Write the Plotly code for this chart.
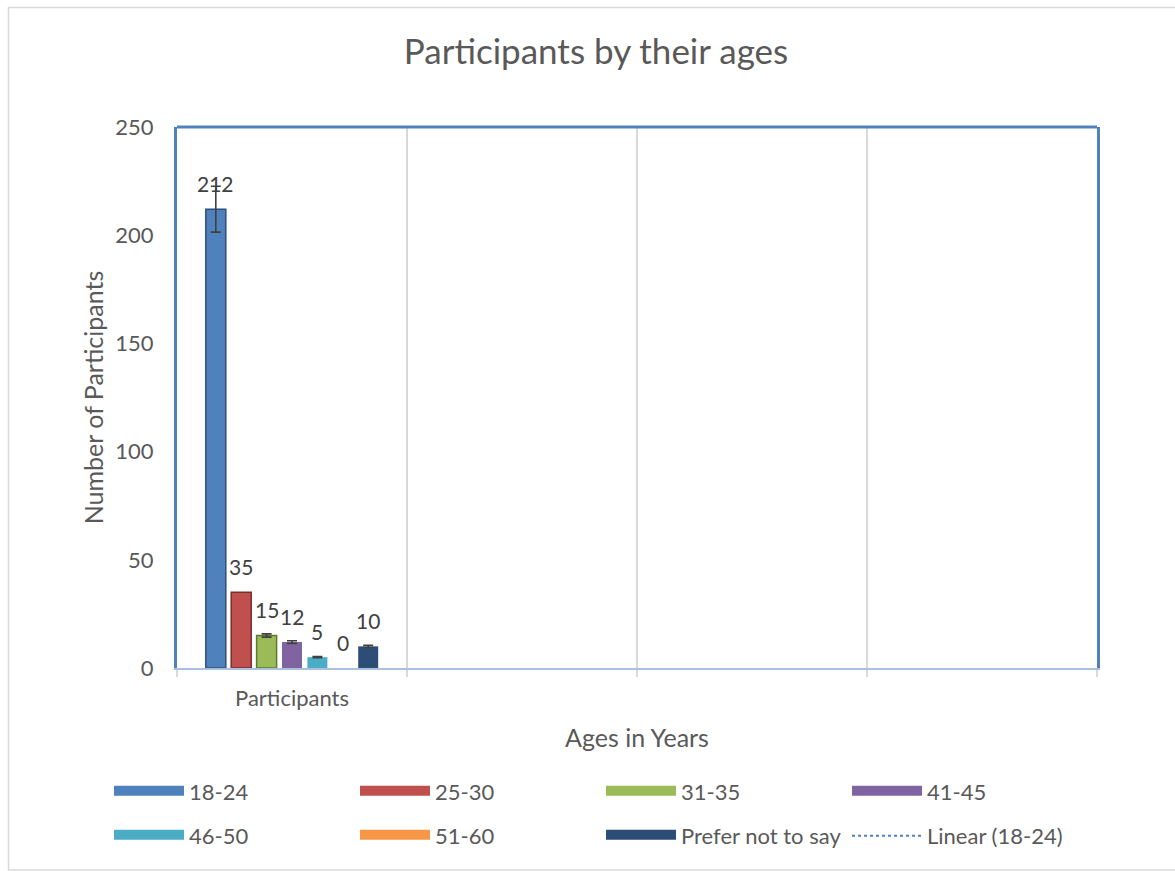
import plotly.graph_objects as go

# Survey counts per age band (single category group)
categories = ["Participants", " ", "  ", "   "]
age_groups = ["18-24", "25-30", "31-35", "41-45", "46-50", "51-60", "Prefer not to say"]
counts = [212, 35, 15, 12, 5, 0, 10]
# 5% error amounts; the 25-30 and 51-60 series carry no error bars
errors = [10.6, None, 0.75, 0.6, 0.25, None, 0.5]
colors = ["#4F81BD", "#C0504D", "#9BBB59", "#8064A2", "#4BACC6", "#F79646", "#2C4D75"]
edge_colors = ["#2F4F7A", "#7A2E2C", "#5E7A2F", None, None, None, None]
legend_rows = ["legend", "legend", "legend", "legend", "legend2", "legend2", "legend2"]
trend_name = "Linear (18-24)"

FONT = "Lato"
TEXT = "#595959"
BARGAP = 0.227
BARGROUPGAP = 0.213

fig = go.Figure()

# invisible trace so the empty category slots exist on the axis
fig.add_trace(go.Scatter(x=categories, y=[None] * len(categories), mode="markers",
                         showlegend=False, hoverinfo="skip"))

for name, val, err, col, edge, leg in zip(age_groups, counts, errors, colors, edge_colors, legend_rows):
    fig.add_trace(go.Bar(
        x=[categories[0]], y=[val], name=name, legendgroup=name, showlegend=False,
        marker=dict(color=col, line=dict(color=edge or col, width=1.5 if edge else 0)),
        error_y=dict(type="data", array=[err] if err is not None else [0],
                     visible=err is not None, color="#404040", thickness=1.6, width=5),
    ))
    # wide swatch legend entry (line + fill strip gives a thicker bar)
    fig.add_trace(go.Scatter(
        x=[None], y=[None], mode="lines", name=name, legendgroup=name, legend=leg,
        line=dict(color=col, width=8), fill="toself", fillcolor=col, hoverinfo="skip",
    ))

fig.add_trace(go.Scatter(
    x=[None], y=[None], mode="lines", name=trend_name, legend="legend2",
    line=dict(color="#4F81BD", width=2, dash="dot"), hoverinfo="skip",
))

# value labels above each bar, positioned at each bar's slot centre
n = len(counts)
slot = (1 - BARGAP) / n
annotations = []
for i, val in enumerate(counts):
    xc = -(1 - BARGAP) / 2 + slot * (i + 0.5)
    annotations.append(dict(x=xc, y=val, xref="x", yref="y", text=str(val), showarrow=False,
                            yanchor="middle", yshift=26,
                            font=dict(family=FONT, size=21, color="#404040")))

legend_common = dict(orientation="h", entrywidth=161, entrywidthmode="pixels", itemwidth=70,
                     font=dict(family=FONT, size=22, color=TEXT), bgcolor="rgba(0,0,0,0)",
                     xanchor="left", yanchor="middle", itemclick=False, itemdoubleclick=False)

fig.update_layout(
    width=1175, height=871,
    margin=dict(l=177, r=78, t=127, b=203, autoexpand=False),
    paper_bgcolor="white", plot_bgcolor="white",
    barmode="group", bargap=BARGAP, bargroupgap=BARGROUPGAP,
    title=dict(text="Participants by their ages", x=596 / 1175, xanchor="center",
               y=1 - 52 / 871, yanchor="middle",
               font=dict(family=FONT, size=35, color=TEXT)),
    font=dict(family=FONT, color=TEXT),
    legend=dict(x=(109 - 177) / 920, y=(668 - 792) / 541, **legend_common),
    legend2=dict(x=(109 - 177) / 920, y=(668 - 836) / 541, **legend_common),
    annotations=annotations,
    shapes=[
        # outer chart frame
        dict(type="rect", xref="paper", yref="paper",
             x0=(8.5 - 177) / 920, x1=(1180 - 177) / 920,
             y0=(668 - 870) / 541, y1=(668 - 7.5) / 541,
             line=dict(color="#D9D9D9", width=1.5), layer="below"),
        # top edge of plot-area border
        dict(type="line", xref="paper", yref="paper", x0=0, x1=1, y0=1, y1=1,
             line=dict(color="#4F81BD", width=3)),
    ],
)

fig.update_xaxes(
    type="category", categoryorder="array", categoryarray=categories,
    range=[-0.5, len(categories) - 0.5],
    tickson="boundaries", ticks="outside", ticklen=7, tickwidth=2, tickcolor="#D9D9D9",
    ticklabelstandoff=10,
    showgrid=True, gridcolor="#D9D9D9", gridwidth=2,
    showline=True, linecolor="#A9C0DE", linewidth=2,
    tickfont=dict(family=FONT, size=22, color=TEXT),
    title=dict(text="Ages in Years", standoff=19, font=dict(family=FONT, size=25, color=TEXT)),
    fixedrange=True,
)
fig.update_yaxes(
    range=[0, 250], dtick=50, showgrid=False, zeroline=False,
    showline=True, mirror=True, linecolor="#4F81BD", linewidth=3,
    ticks="", ticklabelstandoff=16,
    tickfont=dict(family=FONT, size=22, color=TEXT),
    title=dict(text="Number of Participants", standoff=5,
               font=dict(family=FONT, size=25, color=TEXT)),
    fixedrange=True,
)

fig.write_html("out.html")
